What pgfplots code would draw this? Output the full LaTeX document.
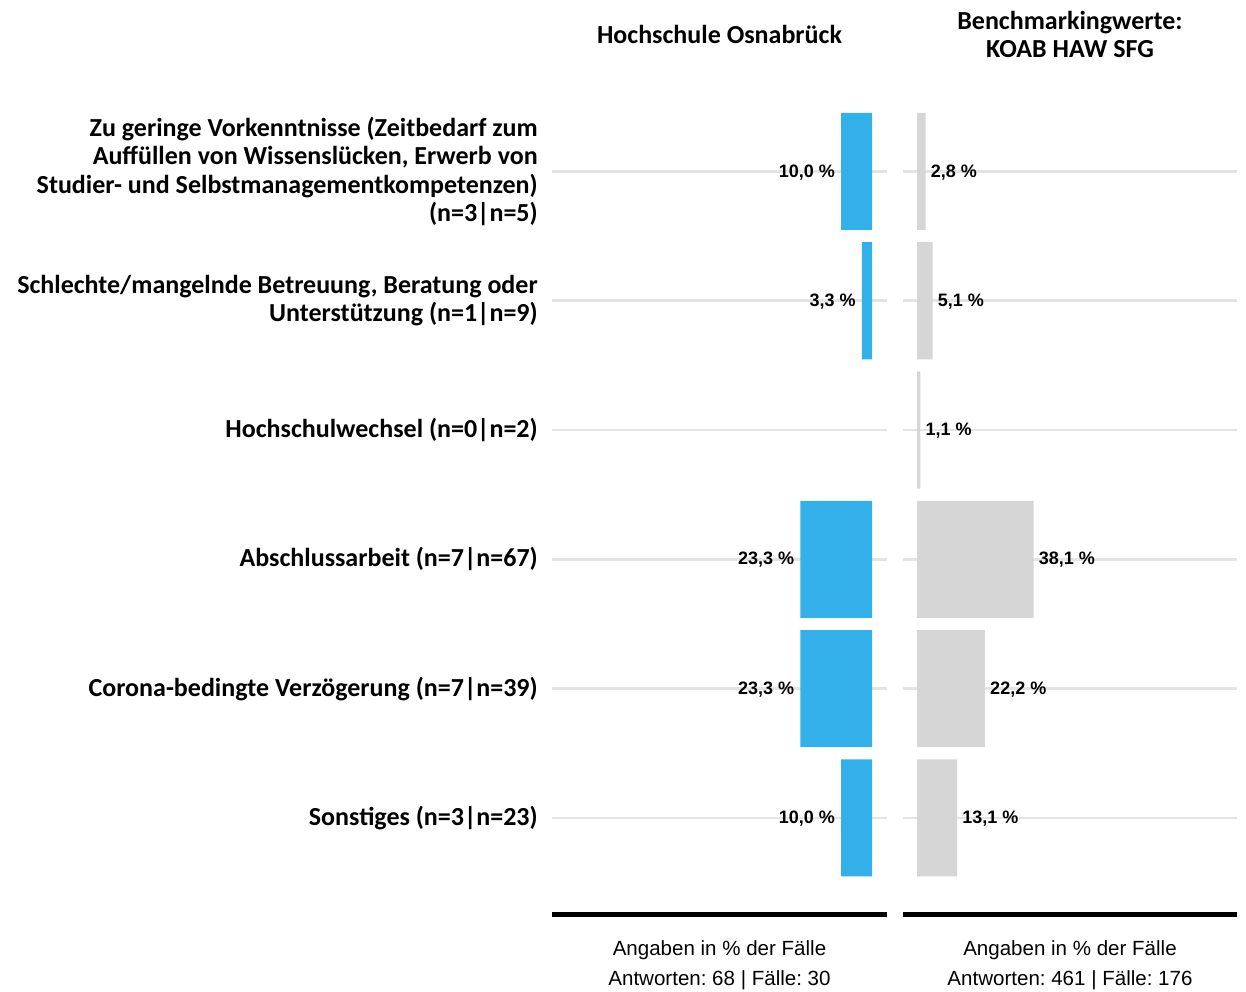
\documentclass[border=0pt]{standalone}
\usepackage{pgfplots}
\pgfplotsset{compat=1.18}
\usepackage{fontspec}
\setmainfont{Carlito}
\newfontfamily\arial{Liberation Sans}

\definecolor{hsblue}{RGB}{51,176,233}
\definecolor{benchgray}{RGB}{214,214,214}
\definecolor{gridgray}{RGB}{228,228,228}

% rows from bottom (0) to top (5)
\pgfplotstableread{
y  val
5  10.0
4  3.3
2  23.3
1  23.3
0  10.0
}\hsdata
\pgfplotstableread{
y  val
5  2.8
4  5.1
3  1.1
2  38.1
1  22.2
0  13.1
}\benchdata

\pgfplotsset{
  panel/.style={
    scale only axis,
    height=606pt,
    ymin=-0.749, ymax=5.5,
    ytick={0,...,5},
    xtick=\empty,
    axis x line=bottom,
    axis y line=left,
    y axis line style={draw=none},
    x axis line style={line width=3.75pt,-,black},
    major tick length=0pt,
    ymajorgrids,
    grid style={gridgray,line width=1.9pt},
    xbar, bar width=0.905, bar shift=0pt,
    clip=false,
    nodes near coords={\pgfmathprintnumber[fixed,fixed zerofill,precision=1,use comma,assume math mode=true]{\pgfplotspointmeta}~\%},
    every node near coord/.append style={font=\arial\bfseries\fontsize{13.5}{16}\selectfont,inner sep=0pt,text=black,yshift=-0.5pt},
  },
}

\begin{document}
\frenchspacing
\begin{tikzpicture}[x=0.75pt,y=-0.75pt]
\path[use as bounding box] (0,0) rectangle (1246,992);

% 1 px = 0.75pt; left panel spans x 552..887 px, bottom line at 914.8 px
\begin{axis}[panel,
  at={(414pt,-686.1pt)}, anchor=south west,
  width=251.25pt,
  x dir=reverse, xmin=-4.87, xmax=104,
  every node near coord/.append style={anchor=east,xshift=-4.5pt},
  yticklabels={
    {Sonstiges (n=3|n=23)},
    {Corona-bedingte Verzögerung (n=7|n=39)},
    {Abschlussarbeit (n=7|n=67)},
    {Hochschulwechsel (n=0|n=2)},
    {Schlechte/mangelnde Betreuung, Beratung oder\\Unterstützung (n=1|n=9)},
    {Zu geringe Vorkenntnisse (Zeitbedarf zum\\Auffüllen von Wissenslücken, Erwerb von\\Studier- und Selbstmanagementkompetenzen)\\(n=3|n=5)}
  },
  yticklabel style={align=right,anchor=east,inner sep=0pt,xshift=-10.5pt,
    font=\bfseries\fontsize{19.5}{21.4}\selectfont},
]
\addplot[fill=hsblue,draw=none] table[x=val,y=y] {\hsdata};
\end{axis}

% right panel spans x 903..1237 px
\begin{axis}[panel,
  at={(677.25pt,-686.1pt)}, anchor=south west,
  width=250.5pt,
  xmin=-4.6, xmax=104.6,
  yticklabels={},
  every node near coord/.append style={anchor=west,xshift=3.75pt},
]
\addplot[fill=benchgray,draw=none] table[x=val,y=y] {\benchdata};
\end{axis}

\node[font=\bfseries\fontsize{19.5}{21}\selectfont,align=center] at (719.5,34) {Hochschule Osnabrück};
\node[font=\bfseries\fontsize{19.5}{21}\selectfont,align=center] at (1070,34) {Benchmarkingwerte:\\KOAB HAW SFG};

\node[font=\arial\fontsize{15.4}{22.5}\selectfont,align=center] at (719.5,965) {Angaben in \% der Fälle\\Antworten: 68 | Fälle: 30};
\node[font=\arial\fontsize{15.4}{22.5}\selectfont,align=center] at (1070,965) {Angaben in \% der Fälle\\Antworten: 461 | Fälle: 176};
\end{tikzpicture}
\end{document}
